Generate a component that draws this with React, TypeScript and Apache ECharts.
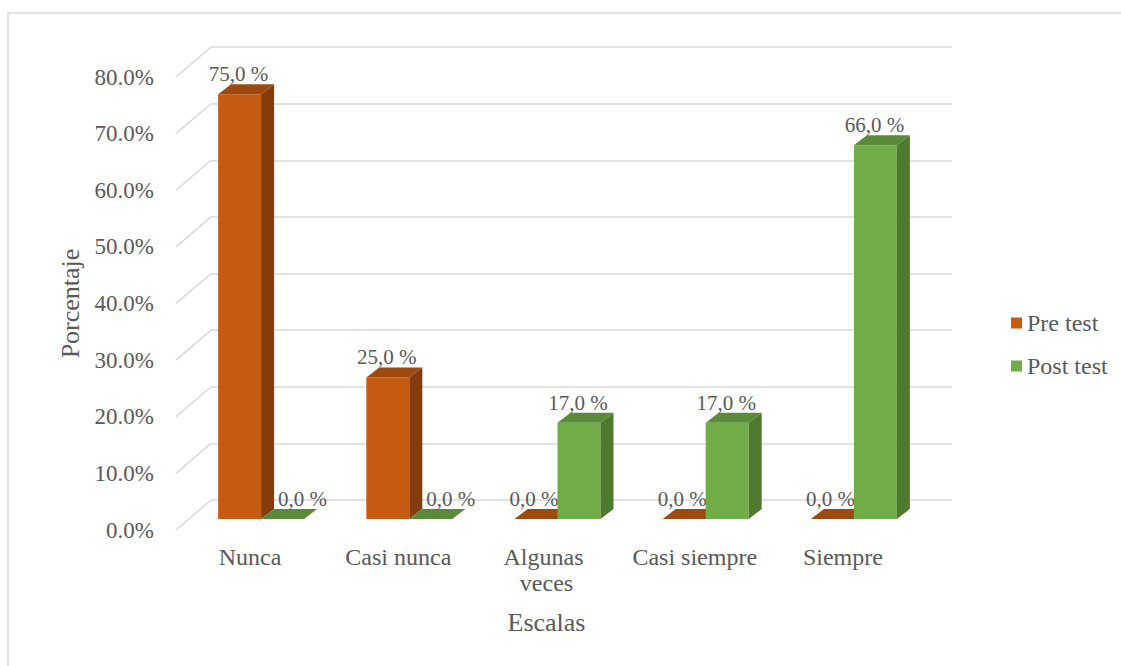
import React, { useEffect, useRef } from "react";
import * as echarts from "echarts";

const categories = ["Nunca", "Casi nunca", "Algunas veces", "Casi siempre", "Siempre"];
const preTest = [75, 25, 0, 0, 0];
const postTest = [0, 0, 17, 17, 66];
const percentTicks = [0, 10, 20, 30, 40, 50, 60, 70, 80];
const seriesNames = ["Pre test", "Post test"];

const FONT = "'Liberation Serif', 'Times New Roman', serif";
const TEXT = "#595959";
const GRID = "#d9d9d9";

const palettes = [
  { front: "#C55A11", side: "#843C0C", top: "#9C4A10" },
  { front: "#70AD47", side: "#4E7A2E", top: "#5A8A3A" },
];

// perspective offsets
const FRONT_DX = -35;
const FRONT_DY = 30;
const BAR_DX = -24;
const BAR_DY = 19;
const DEPTH_DX = 13;
const DEPTH_DY = -10;

function fmt(v: number) {
  return v.toFixed(1).replace(".", ",") + " %";
}

function makeBarRender(si: number) {
  return (params: any, api: any) => {
    const i = api.value(0);
    const val = api.value(1);
    const base = api.coord([i, 0]);
    const topPt = api.coord([i, val]);
    const band = api.size([1, 0])[0];
    const barW = band * 0.29;
    const pairCx = base[0] + BAR_DX;
    const x0 = si === 0 ? pairCx - barW : pairCx;
    const bottom = base[1] + BAR_DY;
    const top = topPt[1] + BAR_DY;
    const p = palettes[si];
    const children: any[] = [];
    if (bottom - top > 0.5) {
      children.push({
        type: "rect",
        shape: { x: x0, y: top, width: barW, height: bottom - top },
        style: { fill: p.front },
      });
      children.push({
        type: "polygon",
        shape: {
          points: [
            [x0 + barW, top],
            [x0 + barW + DEPTH_DX, top + DEPTH_DY],
            [x0 + barW + DEPTH_DX, bottom + DEPTH_DY],
            [x0 + barW, bottom],
          ],
        },
        style: { fill: p.side },
      });
    }
    children.push({
      type: "polygon",
      shape: {
        points: [
          [x0, top],
          [x0 + DEPTH_DX, top + DEPTH_DY],
          [x0 + barW + DEPTH_DX, top + DEPTH_DY],
          [x0 + barW, top],
        ],
      },
      style: { fill: p.top },
    });
    const lx = x0 + barW / 2 + (val === 0 && si === 1 ? 20 : val === 0 ? -2 : -1);
    children.push({
      type: "text",
      style: {
        text: fmt(val),
        x: lx,
        y: top - 20,
        align: "center",
        verticalAlign: "middle",
        fill: TEXT,
        fontSize: 21,
        fontFamily: FONT,
      },
      z2: 10,
    });
    return { type: "group", children };
  };
}

export default function App() {
  const ref = useRef<HTMLDivElement>(null);
  useEffect(() => {
    if (!ref.current) return;
    const chart = echarts.init(ref.current, undefined, { renderer: "svg" });
    const backGrid = { left: 211, top: 47, width: 741, height: 453 };
    const frontGrid = {
      left: 211 + FRONT_DX,
      top: 47 + FRONT_DY,
      width: 741,
      height: 453,
    };
    chart.setOption({
      animation: false,
      backgroundColor: "#ffffff",
      textStyle: { fontFamily: FONT },
      graphic: [
        {
          type: "rect",
          shape: { x: 8, y: 13, width: 1125, height: 700 },
          style: { fill: "none", stroke: GRID, lineWidth: 1.5 },
          silent: true,
        },
      ],
      grid: [backGrid, frontGrid],
      legend: {
        orient: "vertical",
        left: 1006,
        top: 306,
        itemWidth: 11,
        itemHeight: 11,
        itemGap: 19,
        icon: "rect",
        data: seriesNames,
        textStyle: { color: TEXT, fontSize: 24, fontFamily: FONT },
      },
      xAxis: [
        {
          type: "category",
          gridIndex: 0,
          data: categories,
          axisLine: { show: false },
          axisTick: { show: false },
          axisLabel: { show: false },
        },
        {
          type: "category",
          gridIndex: 1,
          data: categories,
          axisLine: { show: false },
          axisTick: { show: false },
          axisLabel: {
            interval: 0,
            color: TEXT,
            fontSize: 24,
            fontFamily: FONT,
            margin: 14,
            width: 132,
            overflow: "break",
            lineHeight: 26,
          },
          name: "Escalas",
          nameLocation: "middle",
          nameGap: 79,
          nameTextStyle: { color: TEXT, fontSize: 26, fontFamily: FONT },
        },
      ],
      yAxis: [
        {
          type: "value",
          gridIndex: 0,
          min: 0,
          max: 80,
          interval: 10,
          axisLine: { show: false },
          axisTick: { show: false },
          axisLabel: { show: false },
          splitLine: { lineStyle: { color: GRID, width: 1.5 } },
        },
        {
          type: "value",
          gridIndex: 1,
          min: 0,
          max: 80,
          interval: 10,
          axisLine: { show: false },
          axisTick: { show: false },
          splitLine: { show: false },
          axisLabel: {
            color: TEXT,
            fontSize: 23,
            fontFamily: FONT,
            margin: 22,
            formatter: (v: number) => v.toFixed(1) + "%",
          },
          name: "Porcentaje",
          nameLocation: "middle",
          nameGap: 93,
          nameRotate: 90,
          nameTextStyle: { color: TEXT, fontSize: 26, fontFamily: FONT },
        },
      ],
      series: [
        {
          type: "custom",
          name: "diagonals",
          xAxisIndex: 0,
          yAxisIndex: 0,
          silent: true,
          data: percentTicks.map((v) => [0, v]),
          renderItem: (params: any, api: any) => {
            const p = api.coord([api.value(0), api.value(1)]);
            const band = api.size([1, 0])[0];
            const lx = p[0] - band / 2;
            return {
              type: "line",
              shape: { x1: lx + FRONT_DX, y1: p[1] + FRONT_DY, x2: lx, y2: p[1] },
              style: { stroke: GRID, lineWidth: 1.5 },
            };
          },
          z: 1,
        },
        {
          type: "custom",
          name: seriesNames[0],
          xAxisIndex: 0,
          yAxisIndex: 0,
          itemStyle: { color: palettes[0].front },
          data: preTest.map((v, i) => [i, v]),
          renderItem: makeBarRender(0),
          z: 3,
        },
        {
          type: "custom",
          name: seriesNames[1],
          xAxisIndex: 0,
          yAxisIndex: 0,
          itemStyle: { color: palettes[1].front },
          data: postTest.map((v, i) => [i, v]),
          renderItem: makeBarRender(1),
          z: 4,
        },
      ],
    });
    return () => chart.dispose();
  }, []);
  return (
    <div
      ref={ref}
      style={{ position: "absolute", left: 0, top: 0, width: 1121, height: 666 }}
    />
  );
}
